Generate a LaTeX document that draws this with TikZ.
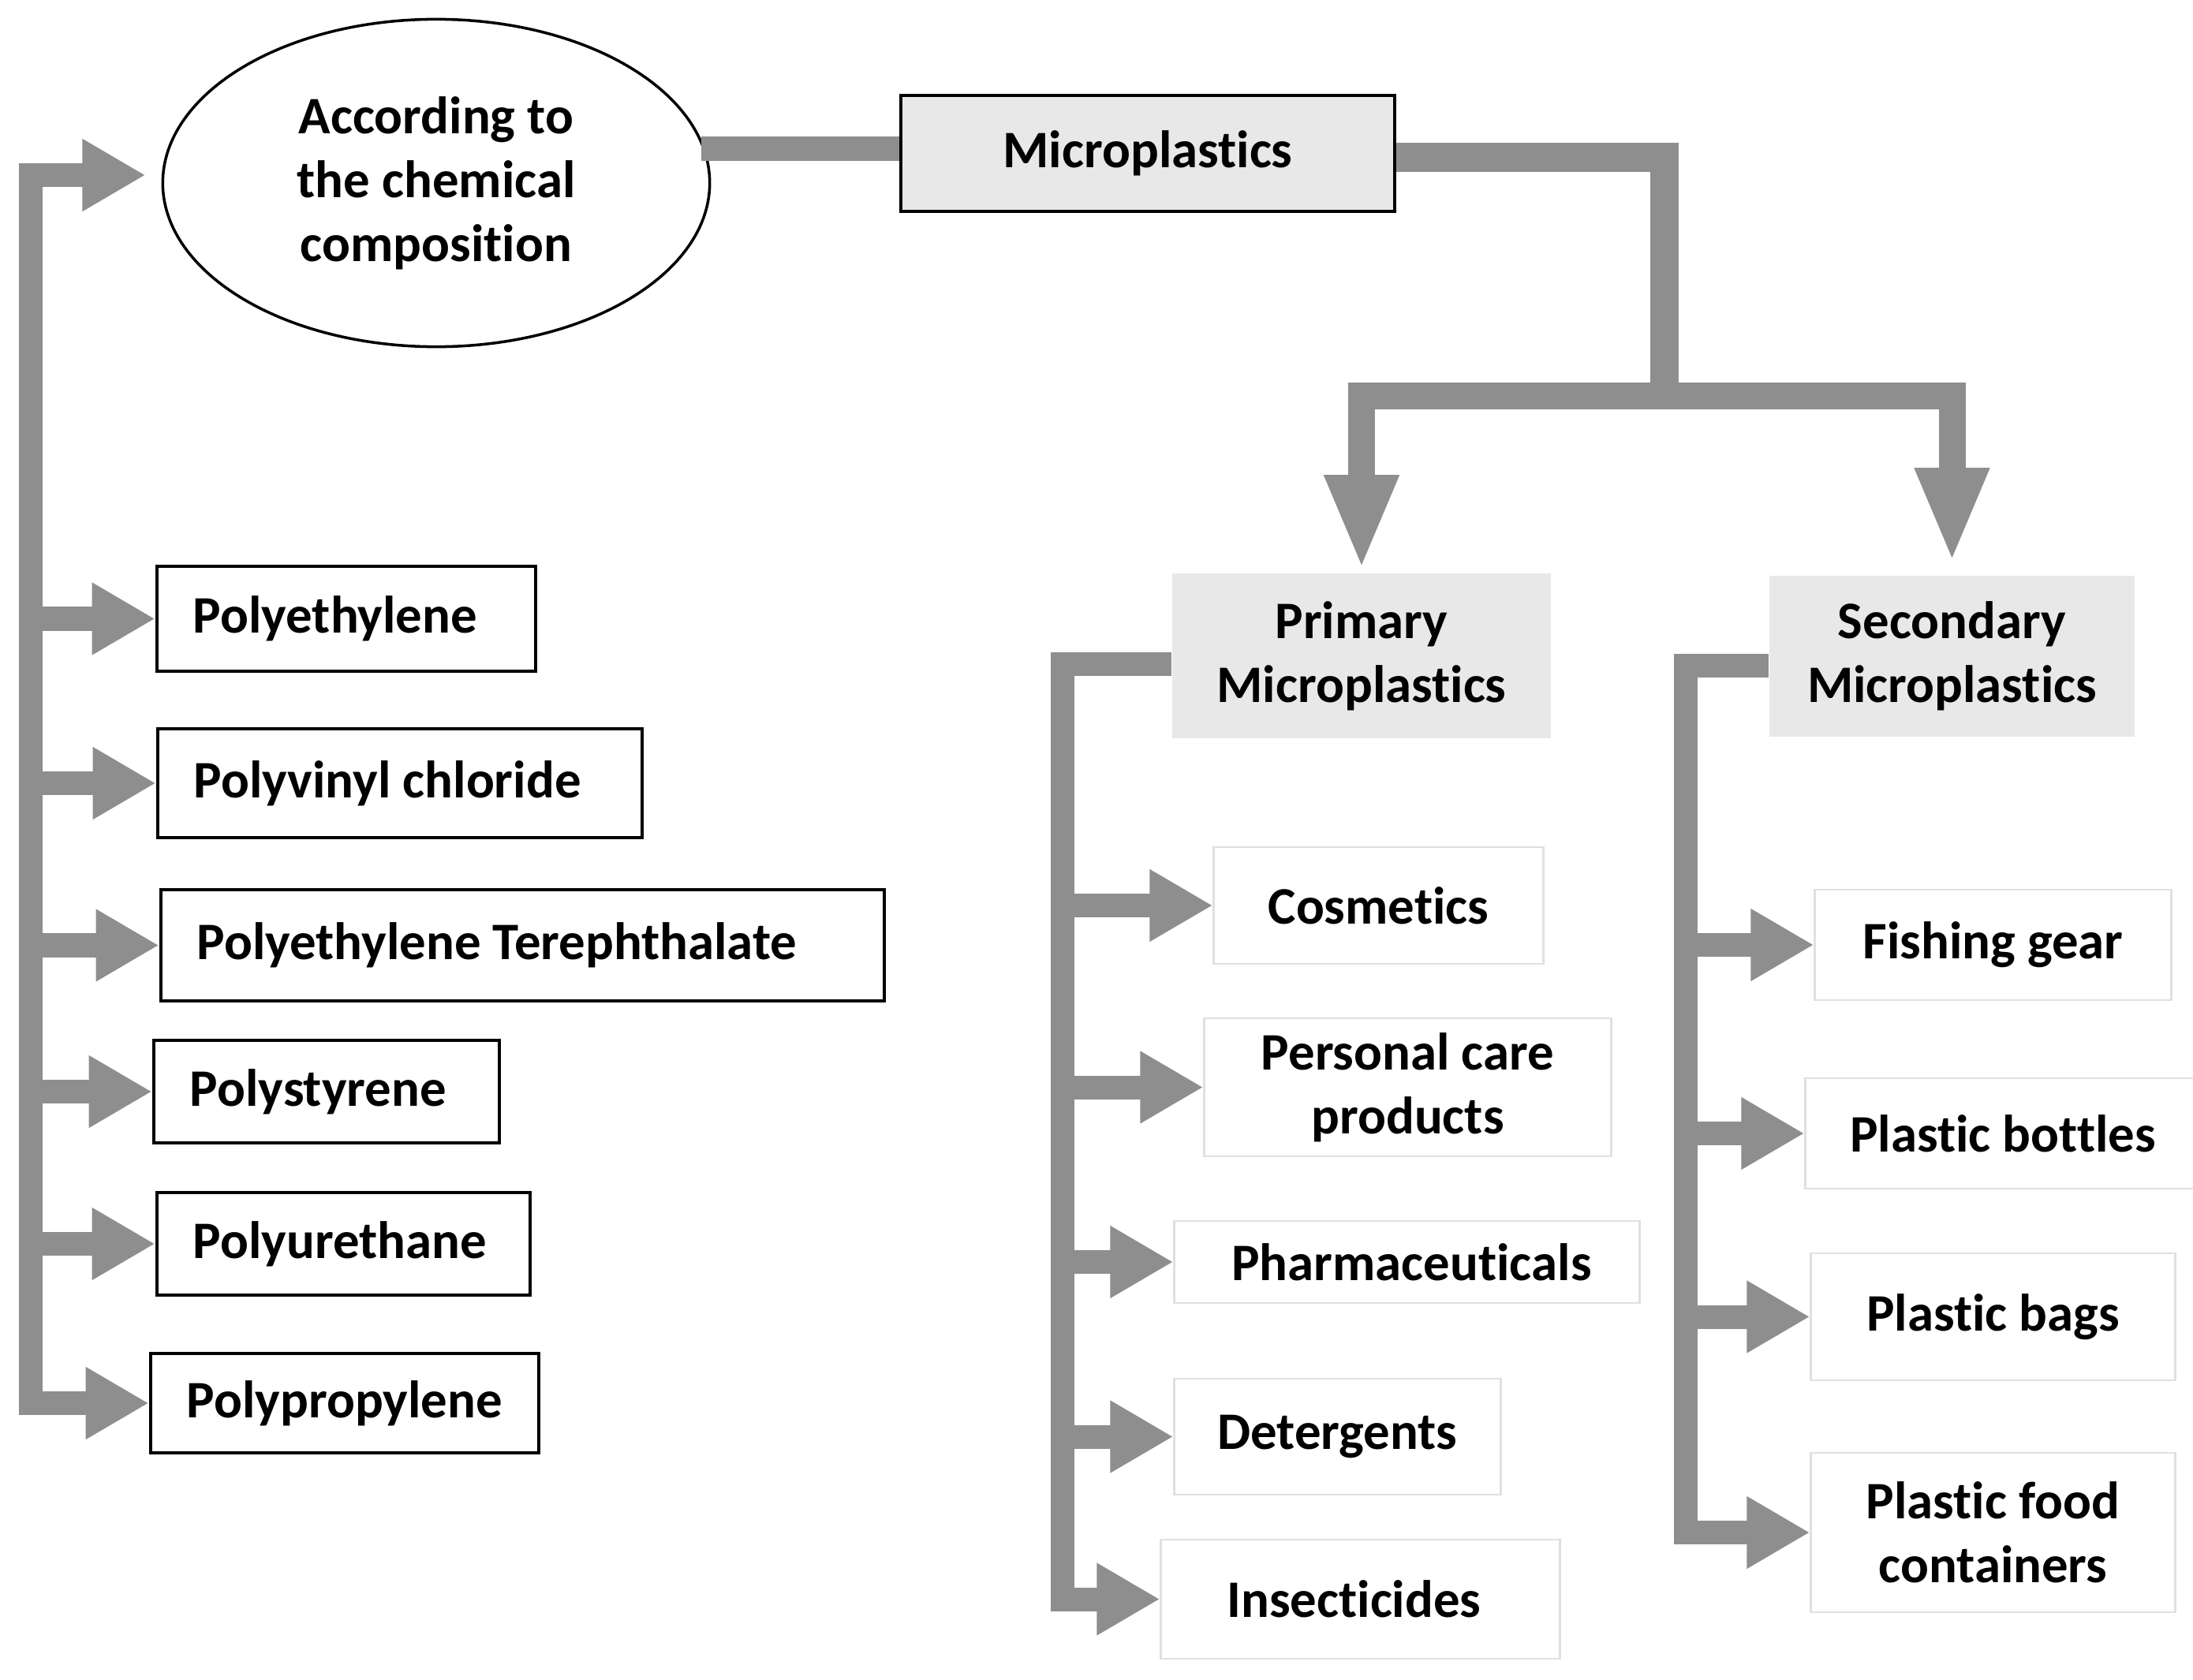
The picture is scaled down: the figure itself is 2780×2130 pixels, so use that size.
\documentclass[tikz,border=0pt]{standalone}
\usepackage{fontspec}
\setmainfont{Carlito}[Ligatures=NoCommon]
\usepackage{tikz}
\usetikzlibrary{shapes,arrows.meta}
\definecolor{lineGR}{HTML}{8E8E8E}
\definecolor{fillGR}{HTML}{E8E8E8}
\definecolor{edgeGR}{HTML}{E0E0E0}
\tikzstyle{ellipseWH} = [ellipse, draw, line width=1pt, align=center, inner sep=0pt, minimum width=6.93cm, minimum height=4.15cm]
\tikzstyle{blockBK} = [rectangle, draw, line width=1.2pt, align=center, inner sep=0pt]
\tikzstyle{blockBL} = [rectangle, draw, line width=1.2pt, align=flush left, inner xsep=0.46cm, inner ysep=0pt]
\tikzstyle{blockGR} = [rectangle, fill=fillGR, align=center, inner sep=0pt]
\tikzstyle{blockLT} = [rectangle, draw=edgeGR, line width=0.8pt, align=center, inner sep=0pt]
\tikzstyle{line} = [draw=lineGR, line width=0.3cm]
\tikzstyle{lineR} = [line, -{Triangle[length=0.8cm,width=0.86cm]}]
\tikzstyle{lineLR} = [line, {Triangle[length=0.8cm,width=0.86cm]}-{Triangle[length=0.8cm,width=0.86cm]}]
\tikzstyle{lineD} = [line, line width=0.34cm, -{Triangle[length=1.2cm,width=0.86cm]}]

\begin{document}
\begin{tikzpicture}[x=0.01cm, y=-0.01cm,
  font=\fontsize{19}{23}\selectfont\bfseries
  ]
  \useasboundingbox (0,0) rectangle (2780,2130);

    % nodes
    \node [ellipseWH] (chem_comp) at (553,232) {According to\\the chemical\\composition};
    \node [blockBK, fill=fillGR, minimum width=6.26cm, minimum height=1.47cm] (micro) at (1455,194.5) {Microplastics};
    \node [blockGR, minimum width=4.8cm, minimum height=2.09cm] (primary) at (1726,831.5) {Primary\\Microplastics};
    \node [blockGR, minimum width=4.63cm, minimum height=2.04cm] (secondary) at (2474.5,832) {Secondary\\Microplastics};

    % chemical composition
    \node [blockBL, text width=3.88cm, minimum height=1.33cm] (pe) at (439,784.5) {Polyethylene};
    \node [blockBL, text width=5.22cm, minimum height=1.38cm] (pvc) at (507,993) {Polyvinyl chloride};
    \node [blockBL, text width=8.25cm, minimum height=1.41cm] (pet) at (662.5,1198.5) {Polyethylene Terephthalate};
    \node [blockBL, text width=3.46cm, minimum height=1.3cm] (ps) at (414,1384) {Polystyrene};
    \node [blockBL, text width=3.81cm, minimum height=1.3cm] (pu) at (435.5,1577) {Polyurethane};
    \node [blockBL, text width=4.0cm, minimum height=1.26cm] (pp) at (437,1779) {Polypropylene};

    % primary sources
    \node [blockLT, minimum width=4.17cm, minimum height=1.48cm] (cosmetics) at (1747.5,1148) {Cosmetics};
    \node [blockLT, minimum width=5.15cm, minimum height=1.75cm] (personal) at (1784.5,1378.5) {Personal care\\products};
    \node [blockLT, minimum width=5.89cm, minimum height=1.04cm] (pharma) at (1783.5,1600) {\hspace{0.12cm}Pharmaceuticals};
    \node [blockLT, minimum width=4.13cm, minimum height=1.47cm] (detergents) at (1695.5,1821.5) {Detergents};
    \node [blockLT, minimum width=5.05cm, minimum height=1.51cm] (insecticides) at (1724.5,2027.5) {Insecticides\hspace{0.16cm}};

    % secondary sources
    \node [blockLT, minimum width=4.51cm, minimum height=1.4cm] (fishing) at (2526.5,1198) {Fishing gear};
    \node [blockLT, minimum width=5cm, minimum height=1.4cm] (bottles) at (2539,1437) {Plastic bottles};
    \node [blockLT, minimum width=4.61cm, minimum height=1.61cm] (bags) at (2526.5,1669.5) {Plastic bags};
    \node [blockLT, minimum width=4.61cm, minimum height=2.02cm] (food) at (2526.5,1943) {Plastic food\\containers};

    % bends
    \coordinate (split) at (2110,502);
    \coordinate (left_bus) at (39,222);
    \coordinate (prim_bus) at (1347,842);
    \coordinate (sec_bus) at (2137,844);

    % edges
    \path [line] ([yshift=0.06cm]micro.west) -- ([xshift=-0.12cm, yshift=0.06cm]micro.west -| chem_comp.east);
    \path [line, line width=0.36cm] ([yshift=-0.05cm]micro.east) -| (split);
    \path [lineD] (split) -| ([yshift=0.04cm]primary.north);
    \path [lineD] (split) -| ([yshift=0.16cm]secondary.north);

    \path [lineLR] ([xshift=-0.2cm, yshift=0.1cm]chem_comp.west) -| (pp.west -| left_bus) -- (pp.west);
    \path [lineR] (pe.west -| left_bus) -- (pe.west);
    \path [lineR] (pvc.west -| left_bus) -- (pvc.west);
    \path [lineR] (pet.west -| left_bus) -- (pet.west);
    \path [lineR] (ps.west -| left_bus) -- (ps.west);
    \path [lineR] (pu.west -| left_bus) -- (pu.west);

    \path [lineR] ([yshift=-0.1cm]primary.west) -| (insecticides.west -| prim_bus) -- (insecticides.west);
    \path [lineR] (cosmetics.west -| prim_bus) -- (cosmetics.west);
    \path [lineR] (personal.west -| prim_bus) -- (personal.west);
    \path [lineR] (pharma.west -| prim_bus) -- (pharma.west);
    \path [lineR] (detergents.west -| prim_bus) -- (detergents.west);

    \path [lineR] ([yshift=-0.12cm]secondary.west) -| (food.west -| sec_bus) -- (food.west);
    \path [lineR] (fishing.west -| sec_bus) -- (fishing.west);
    \path [lineR] (bottles.west -| sec_bus) -- (bottles.west);
    \path [lineR] (bags.west -| sec_bus) -- (bags.west);

  \end{tikzpicture}
\end{document}
